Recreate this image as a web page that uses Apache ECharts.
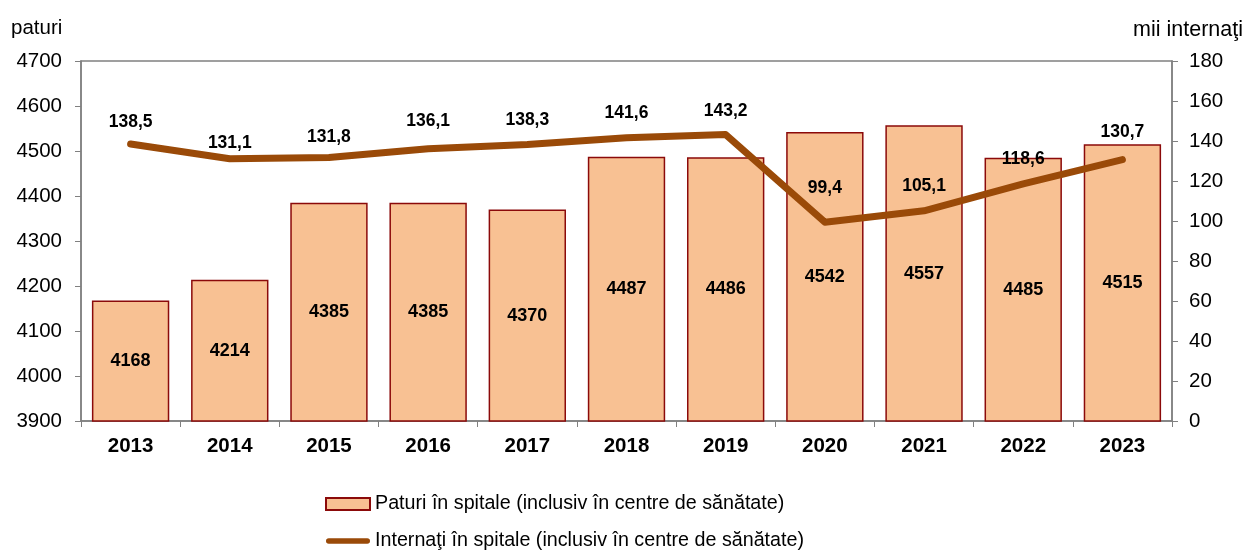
<!DOCTYPE html>
<html>
<head>
<meta charset="utf-8">
<script src="https://cdn.jsdelivr.net/npm/echarts@6/dist/echarts.min.js"></script>
<style>
html,body{margin:0;padding:0;background:#fff;}
#chart{width:1247px;height:551px;}
</style>
</head>
<body>
<div id="chart"></div>
<script>
var categories = ['2013','2014','2015','2016','2017','2018','2019','2020','2021','2022','2023'];
var paturi = [4168, 4214, 4385, 4385, 4370, 4487, 4486, 4542, 4557, 4485, 4515];
var internati = [138.5, 131.1, 131.8, 136.1, 138.3, 141.6, 143.2, 99.4, 105.1, 118.6, 130.7];
var leftAxisName = 'paturi';
var rightAxisName = 'mii internaţi';
var seriesNames = ['Paturi în spitale (inclusiv în centre de sănătate)', 'Internaţi în spitale (inclusiv în centre de sănătate)'];

// label distances above line points (styling only)
var lineLabelDist = [12, 6, 11, 18, 15, 15, 14, 25, 15, 15, 18];

var FONT = 'Liberation Sans, Arial, sans-serif';
var LINE_COLOR = '#9A4A08';
var chart = echarts.init(document.getElementById('chart'), null, {renderer: 'canvas'});

function fmt(v) { return v.toFixed(1).replace('.', ','); }

var option = {
  animation: false,
  backgroundColor: '#ffffff',
  textStyle: {fontFamily: FONT},
  grid: {left: 81, right: 75, top: 61, bottom: 130, show: true, borderColor: '#808080', borderWidth: 1.5, containLabel: false},
  graphic: [
    {type: 'text', left: 11, top: 18, style: {text: leftAxisName, font: '20.5px ' + FONT, fill: '#000'}},
    {type: 'text', right: 4, top: 19, style: {text: rightAxisName, font: '21.5px ' + FONT, fill: '#000'}}
  ],
  legend: {
    orient: 'vertical',
    left: 325,
    top: 494,
    padding: 0,
    height: 80,
    itemWidth: 44,
    itemHeight: 12,
    itemGap: 17,
    symbolKeepAspect: true,
    textStyle: {fontFamily: FONT, fontSize: 19.7, color: '#000'},
    data: [
      {name: seriesNames[0], icon: 'rect'},
      {name: seriesNames[1], icon: 'path://M3,0 L45,0 A3,3 0 0 1 45,6 L3,6 A3,3 0 0 1 3,0 Z', itemStyle: {color: LINE_COLOR}}
    ]
  },
  xAxis: {
    type: 'category',
    data: categories,
    axisLine: {lineStyle: {color: '#808080', width: 1.5}},
    axisTick: {show: true, alignWithLabel: false, length: 6, lineStyle: {color: '#808080'}},
    axisLabel: {fontFamily: FONT, fontSize: 20.5, fontWeight: 'bold', color: '#000', margin: 15}
  },
  yAxis: [
    {
      type: 'value', min: 3900, max: 4700, interval: 100,
      axisLine: {show: true, lineStyle: {color: '#808080', width: 1.5}},
      axisTick: {show: true, length: 6, lineStyle: {color: '#808080'}},
      splitLine: {show: false},
      axisLabel: {fontFamily: FONT, fontSize: 20.5, color: '#000', margin: 19, formatter: function (v) { return String(v); }}
    },
    {
      type: 'value', min: 0, max: 180, interval: 20,
      axisLine: {show: true, lineStyle: {color: '#808080', width: 1.5}},
      axisTick: {show: true, length: 6, lineStyle: {color: '#808080'}},
      splitLine: {show: false},
      axisLabel: {fontFamily: FONT, fontSize: 20.5, color: '#000', margin: 17, formatter: function (v) { return String(v); }}
    }
  ],
  series: [
    {
      name: seriesNames[0],
      type: 'bar',
      yAxisIndex: 0,
      data: paturi,
      barCategoryGap: '22%',
      itemStyle: {color: '#F8C193', borderColor: '#8B0A0A', borderWidth: 1.5},
      label: {show: true, position: 'inside', fontFamily: FONT, fontSize: 18, fontWeight: 'bold', color: '#000'}
    },
    {
      name: seriesNames[1],
      type: 'line',
      yAxisIndex: 1,
      data: internati,
      symbol: 'none',
      lineStyle: {color: LINE_COLOR, width: 7, cap: 'round', join: 'round'},
      itemStyle: {color: LINE_COLOR},
      z: 5
    },
    {
      name: 'labels',
      type: 'scatter',
      yAxisIndex: 1,
      symbol: 'circle',
      symbolSize: 1,
      silent: true,
      itemStyle: {color: 'transparent', opacity: 1},
      emphasis: {disabled: true},
      data: internati.map(function (v, i) {
        return {value: [categories[i], v], label: {distance: lineLabelDist[i]}};
      }),
      label: {
        show: true, position: 'top', fontFamily: FONT, fontSize: 17.5, fontWeight: 'bold', color: '#000',
        formatter: function (p) { return fmt(p.value[1]); }
      },
      z: 6
    }
  ]
};
chart.setOption(option);
</script>
</body>
</html>
